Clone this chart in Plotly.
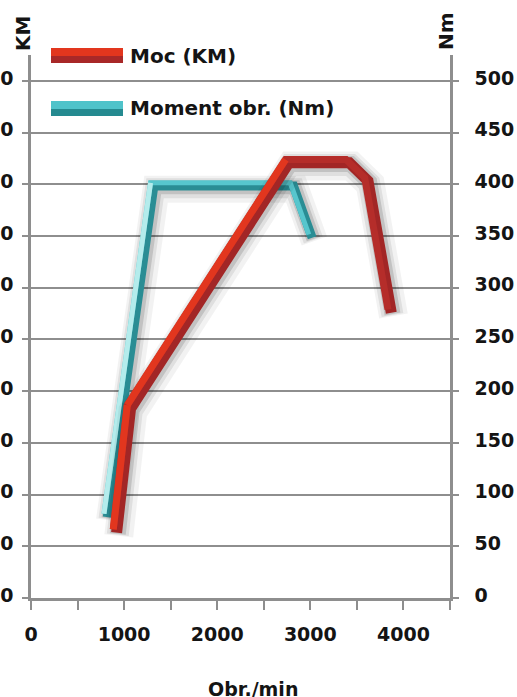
import plotly.graph_objects as go

# ---------------- data ----------------
rpm_power = [900, 1050, 2750, 3400, 3600, 3850]
power_km = [26, 74, 169, 169, 162, 111]

rpm_torque = [800, 1300, 2800, 3000]
torque_nm = [80, 400, 400, 350]

x_tick_vals = [0, 500, 1000, 1500, 2000, 2500, 3000, 3500, 4000, 4500]
x_tick_text = ["0", "", "1000", "", "2000", "", "3000", "", "4000", ""]
km_tick_vals = [0, 20, 40, 60, 80, 100, 120, 140, 160, 180, 200]
nm_tick_vals = [0, 50, 100, 150, 200, 250, 300, 350, 400, 450, 500]

power_name = "Moc (KM)"
torque_name = "Moment obr. (Nm)"

# ---------------- layout geometry ----------------
W, H = 517, 697
L, R, T, B = 31, 67, 55, 99
PW, PH = W - L - R, H - T - B
X_RANGE = [0, 4500]
NM_RANGE = [0, 525]
KM_RANGE = [0, 210]

def dx(px):
    return px * (X_RANGE[1] - X_RANGE[0]) / PW

def dy(px, rng):
    return px * (rng[1] - rng[0]) / PH

def px_x(px):
    return (px - L) / PW

def px_y(py):
    return (H - B - py) / PH

def shifted(xs, ys, sx, sy, rng):
    return [v + dx(sx) for v in xs], [v - dy(sy, rng) for v in ys]

FONT = "DejaVu Sans"
TXT = "#141414"
GRID = "#8e8e8e"

fig = go.Figure()

def line(xs, ys, yaxis, color, width):
    fig.add_trace(go.Scatter(x=xs, y=ys, yaxis=yaxis, mode="lines",
                             line=dict(color=color, width=width),
                             hoverinfo="skip", showlegend=False))

def ribbon(xs, ys, yaxis, rng, rise_face, flat_face, dark, width):
    # soft shadow
    for w, a, (ox, oy) in [(width + 18, 0.05, (4, 5)), (width + 11, 0.08, (3, 4)),
                           (width + 5, 0.13, (3, 3))]:
        sx, sy = shifted(xs, ys, ox, oy, rng)
        line(sx, sy, yaxis, f"rgba(0,0,0,{a})", w)
    # dark side
    sx, sy = shifted(xs, ys, 1.8, 1.8, rng)
    line(sx, sy, yaxis, dark, width)
    # face
    fx, fy = shifted(xs, ys, -1.5, -1.5, rng)
    line(fx, fy, yaxis, flat_face, width - 4)
    for i in range(len(xs) - 1):
        if ys[i + 1] - ys[i] > (rng[1] - rng[0]) * 0.05:
            line(fx[i:i + 2], fy[i:i + 2], yaxis, rise_face, width - 4)

ribbon(rpm_torque, torque_nm, "y", NM_RANGE, "#b4ecec", "#57c6cd", "#2a8d94", 9)
ribbon(rpm_power, power_km, "y2", KM_RANGE, "#e2361e", "#b52d2a", "#a22626", 11)

tickfont = dict(family=FONT, size=19, color=TXT, weight="bold")

fig.update_layout(
    width=W, height=H,
    margin=dict(l=L, r=R, t=T, b=B, pad=0),
    paper_bgcolor="white", plot_bgcolor="white",
    showlegend=False,
    xaxis=dict(range=X_RANGE, tickvals=x_tick_vals, ticktext=x_tick_text,
               showgrid=False, zeroline=False, showline=True, linecolor=GRID, linewidth=2.5,
               ticks="outside", ticklen=9, tickwidth=2, tickcolor=GRID,
               tickfont=tickfont, automargin=False, ticklabelstandoff=8),
    yaxis=dict(range=NM_RANGE, tickvals=nm_tick_vals, side="right",
               showgrid=True, gridcolor=GRID, gridwidth=2, zeroline=False,
               showline=True, linecolor=GRID, linewidth=2.5,
               ticks="outside", ticklen=6, tickwidth=2, tickcolor=GRID,
               tickfont=tickfont, automargin=False, ticklabelstandoff=12, ticklabelshift=-3),
    yaxis2=dict(range=KM_RANGE, tickvals=km_tick_vals, side="left", overlaying="y",
                showgrid=False, zeroline=False, showline=True, linecolor=GRID, linewidth=2.5,
                ticks="outside", ticklen=6, tickwidth=2, tickcolor=GRID,
                tickfont=tickfont, automargin=False, ticklabelstandoff=5, ticklabelshift=-3),
)

# legend swatches (two-tone ribbons)
for (y0, y1, y2, light, dark) in [(48, 56, 63, "#e2361e", "#a82828"), (101, 109, 116, "#4fc3ca", "#258a90")]:
    fig.add_shape(type="rect", xref="paper", yref="paper", x0=px_x(51), x1=px_x(123),
                  y0=px_y(y1), y1=px_y(y0), fillcolor=light, line=dict(width=0), layer="above")
    fig.add_shape(type="rect", xref="paper", yref="paper", x0=px_x(51), x1=px_x(123),
                  y0=px_y(y2), y1=px_y(y1), fillcolor=dark, line=dict(width=0), layer="above")

legfont = dict(family=FONT, size=20, color=TXT, weight="bold")
fig.add_annotation(text=power_name, xref="paper", yref="paper", x=px_x(128), y=px_y(56),
                   xanchor="left", yanchor="middle", showarrow=False, font=legfont)
fig.add_annotation(text=torque_name, xref="paper", yref="paper", x=px_x(128), y=px_y(108),
                   xanchor="left", yanchor="middle", showarrow=False, font=legfont)

# axis titles
titlefont = dict(family=FONT, size=20, color=TXT, weight="bold")
fig.add_annotation(text="KM", xref="paper", yref="paper", x=px_x(23.5), y=px_y(33.5),
                   textangle=-90, showarrow=False, font=titlefont, xanchor="center", yanchor="middle")
fig.add_annotation(text="Nm", xref="paper", yref="paper", x=px_x(446), y=px_y(31),
                   textangle=-90, showarrow=False, font=titlefont, xanchor="center", yanchor="middle")
fig.add_annotation(text="Obr./min", xref="paper", yref="paper", x=px_x(253), y=px_y(689),
                   showarrow=False, font=dict(family=FONT, size=19, color=TXT, weight="bold"),
                   xanchor="center", yanchor="middle")

fig.write_html("out.html", config={"displayModeBar": False},
               post_script="document.body.style.margin='0';document.body.style.overflow='hidden';")
